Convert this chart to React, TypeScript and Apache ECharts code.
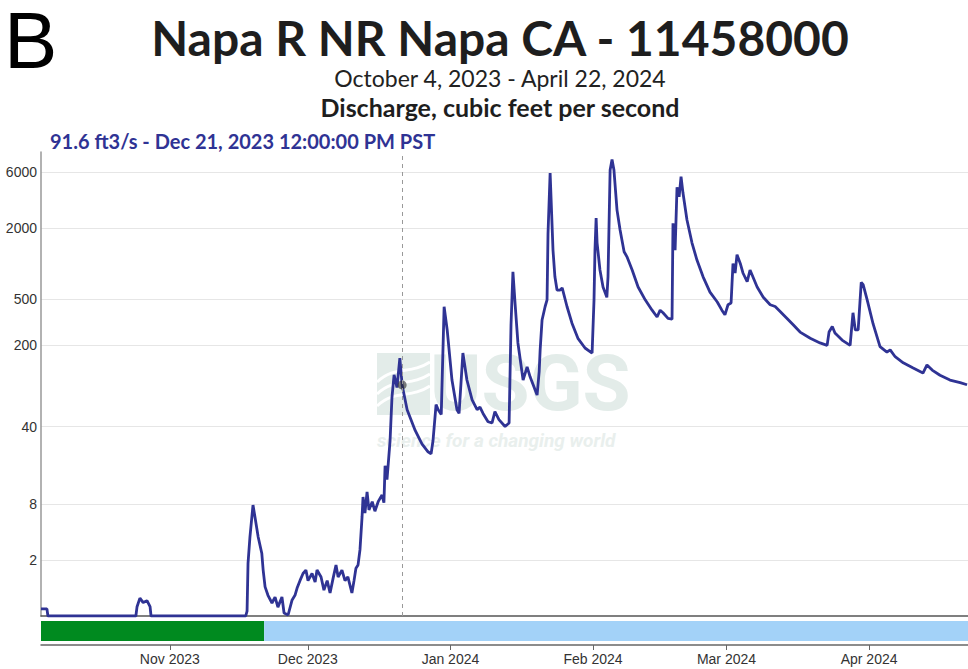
import React, { useEffect, useRef } from "react";
import * as echarts from "echarts";

// Discharge readings [time (local), cubic feet per second]
const discharge: [string, number][] = [
  ["2023-10-04T00:00", 0.15], ["2023-10-05T07:00", 0.15], ["2023-10-05T12:00", 0],
  ["2023-10-24T15:00", 0], ["2023-10-24T21:00", 0.2], ["2023-10-25T12:00", 0.42],
  ["2023-10-26T05:00", 0.3], ["2023-10-27T01:00", 0.35], ["2023-10-27T17:00", 0.2],
  ["2023-10-27T22:00", 0], ["2023-11-17T12:00", 0], ["2023-11-17T19:00", 0.1],
  ["2023-11-18T00:00", 1.8], ["2023-11-18T10:00", 3.7], ["2023-11-19T02:00", 7.8],
  ["2023-11-19T12:00", 6.0], ["2023-11-20T05:00", 3.7], ["2023-11-21T00:00", 2.4],
  ["2023-11-21T07:00", 1.46], ["2023-11-21T17:00", 0.77], ["2023-11-22T08:00", 0.5],
  ["2023-11-23T05:00", 0.29], ["2023-11-23T21:00", 0.45], ["2023-11-24T12:00", 0.19],
  ["2023-11-25T09:00", 0.45], ["2023-11-25T20:00", 0.06], ["2023-11-26T17:00", 0.02],
  ["2023-11-27T14:00", 0.37], ["2023-11-28T05:00", 0.5], ["2023-11-28T16:00", 0.73],
  ["2023-11-29T07:00", 1.0], ["2023-11-29T23:00", 1.3], ["2023-11-30T14:00", 1.46],
  ["2023-12-01T01:00", 1.0], ["2023-12-01T22:00", 1.3], ["2023-12-02T14:00", 0.95],
  ["2023-12-03T00:00", 1.46], ["2023-12-03T21:00", 1.15], ["2023-12-04T12:00", 0.66],
  ["2023-12-05T05:00", 1.0], ["2023-12-05T20:00", 0.57], ["2023-12-06T12:00", 1.1],
  ["2023-12-07T03:00", 1.72], ["2023-12-07T14:00", 1.15], ["2023-12-08T10:00", 1.46],
  ["2023-12-09T02:00", 1.0], ["2023-12-09T17:00", 1.15], ["2023-12-10T14:00", 0.57],
  ["2023-12-11T01:00", 1.0], ["2023-12-11T11:00", 1.55], ["2023-12-11T22:00", 1.72],
  ["2023-12-12T08:00", 2.65], ["2023-12-12T19:00", 6], ["2023-12-13T00:00", 9.3],
  ["2023-12-13T10:00", 6.5], ["2023-12-13T21:00", 10.4], ["2023-12-14T07:00", 7],
  ["2023-12-15T00:00", 8.4], ["2023-12-15T14:00", 6.8], ["2023-12-16T07:00", 8.4],
  ["2023-12-17T03:00", 9.7], ["2023-12-17T13:00", 8.2], ["2023-12-17T19:00", 18],
  ["2023-12-18T05:00", 13.5], ["2023-12-18T21:00", 30], ["2023-12-19T07:00", 72],
  ["2023-12-19T18:00", 112], ["2023-12-20T09:00", 87], ["2023-12-21T00:00", 156],
  ["2023-12-21T12:00", 91.6], ["2023-12-22T14:00", 56], ["2023-12-24T08:00", 37],
  ["2023-12-25T20:00", 28], ["2023-12-27T03:00", 24], ["2023-12-27T19:00", 23],
  ["2023-12-28T05:00", 30], ["2023-12-28T21:00", 62], ["2023-12-29T08:00", 56],
  ["2023-12-30T00:00", 51], ["2023-12-30T15:00", 428], ["2023-12-31T07:00", 271],
  ["2024-01-01T08:00", 101], ["2024-01-02T10:00", 56], ["2024-01-02T21:00", 52],
  ["2024-01-03T17:00", 172], ["2024-01-04T14:00", 101], ["2024-01-05T17:00", 68],
  ["2024-01-06T19:00", 56], ["2024-01-07T10:00", 59], ["2024-01-08T02:00", 52],
  ["2024-01-09T04:00", 44], ["2024-01-10T01:00", 43], ["2024-01-10T16:00", 54],
  ["2024-01-11T13:00", 46], ["2024-01-12T21:00", 40], ["2024-01-13T18:00", 43],
  ["2024-01-14T04:00", 300], ["2024-01-14T14:00", 850], ["2024-01-15T01:00", 460],
  ["2024-01-15T16:00", 210], ["2024-01-16T19:00", 101], ["2024-01-17T16:00", 131],
  ["2024-01-18T08:00", 107], ["2024-01-19T20:00", 75], ["2024-01-20T07:00", 120],
  ["2024-01-20T12:00", 183], ["2024-01-20T22:00", 330], ["2024-01-21T14:00", 430],
  ["2024-01-22T00:00", 490], ["2024-01-22T05:00", 1800], ["2024-01-22T16:00", 5900],
  ["2024-01-23T07:00", 1300], ["2024-01-23T17:00", 770], ["2024-01-24T04:00", 594],
  ["2024-01-24T20:00", 594], ["2024-01-25T07:00", 620], ["2024-01-26T08:00", 430],
  ["2024-01-27T10:00", 310], ["2024-01-28T17:00", 230], ["2024-01-30T06:00", 190],
  ["2024-01-31T19:00", 172], ["2024-02-01T05:00", 490], ["2024-02-01T10:00", 1300],
  ["2024-02-01T16:00", 2440], ["2024-02-01T21:00", 1500], ["2024-02-02T12:00", 880],
  ["2024-02-03T04:00", 630], ["2024-02-04T00:00", 515], ["2024-02-04T06:00", 770],
  ["2024-02-04T17:00", 6250], ["2024-02-05T03:00", 7700], ["2024-02-05T13:00", 6250],
  ["2024-02-06T05:00", 2850], ["2024-02-06T21:00", 1930], ["2024-02-07T18:00", 1260],
  ["2024-02-08T09:00", 1140], ["2024-02-09T12:00", 880], ["2024-02-10T19:00", 630],
  ["2024-02-12T08:00", 490], ["2024-02-13T20:00", 400], ["2024-02-14T22:00", 350],
  ["2024-02-15T14:00", 400], ["2024-02-16T05:00", 380], ["2024-02-17T07:00", 340],
  ["2024-02-18T04:00", 335], ["2024-02-18T09:00", 2200], ["2024-02-18T20:00", 1300],
  ["2024-02-19T06:00", 4450], ["2024-02-19T17:00", 3700], ["2024-02-20T03:00", 5500],
  ["2024-02-20T13:00", 4000], ["2024-02-21T10:00", 2350], ["2024-02-22T12:00", 1500],
  ["2024-02-23T14:00", 1070], ["2024-02-24T22:00", 770], ["2024-02-26T10:00", 570],
  ["2024-02-28T00:00", 470], ["2024-02-29T00:00", 400], ["2024-02-29T16:00", 365],
  ["2024-03-01T08:00", 445], ["2024-03-02T00:00", 460], ["2024-03-02T10:00", 1000],
  ["2024-03-02T21:00", 830], ["2024-03-03T07:00", 1190], ["2024-03-04T00:00", 1000],
  ["2024-03-04T14:00", 830], ["2024-03-05T12:00", 700], ["2024-03-06T03:00", 880],
  ["2024-03-07T16:00", 630], ["2024-03-09T00:00", 515], ["2024-03-10T12:00", 445],
  ["2024-03-11T14:00", 430], ["2024-03-12T16:00", 390], ["2024-03-14T04:00", 340],
  ["2024-03-15T12:00", 300], ["2024-03-17T00:00", 260], ["2024-03-19T05:00", 230],
  ["2024-03-21T08:00", 210], ["2024-03-22T21:00", 200], ["2024-03-23T07:00", 260],
  ["2024-03-24T00:00", 290], ["2024-03-24T14:00", 255], ["2024-03-26T03:00", 222],
  ["2024-03-27T21:00", 200], ["2024-03-28T12:00", 380], ["2024-03-29T00:00", 271],
  ["2024-03-29T15:00", 271], ["2024-03-30T07:00", 690], ["2024-03-30T17:00", 660],
  ["2024-03-31T14:00", 490], ["2024-04-01T21:00", 305], ["2024-04-03T09:00", 195],
  ["2024-04-04T21:00", 175], ["2024-04-05T14:00", 183], ["2024-04-06T16:00", 160],
  ["2024-04-08T10:00", 142], ["2024-04-10T14:00", 128], ["2024-04-12T17:00", 116],
  ["2024-04-13T14:00", 136], ["2024-04-14T17:00", 123], ["2024-04-16T10:00", 111],
  ["2024-04-18T14:00", 101], ["2024-04-20T19:00", 96], ["2024-04-22T07:00", 92],
];

const yTickValues = [2, 8, 40, 200, 500, 2000, 6000];
const yAxisMinValue = 0;
const yAxisMaxValue = 8900;
const xAxisStart = "2023-10-04T00:00";
const xAxisEnd = "2024-04-22T12:00";
const monthTicks = ["2023-11-01T00:00", "2023-12-01T00:00", "2024-01-01T00:00", "2024-02-01T00:00", "2024-03-01T00:00", "2024-04-01T00:00"];
const monthNames = ["Jan", "Feb", "Mar", "Apr", "May", "Jun", "Jul", "Aug", "Sep", "Oct", "Nov", "Dec"];

// Approval status periods: [start, end, statusIndex] (0 = approved, 1 = provisional)
const statusPeriods: [string, string, number][] = [
  ["2023-10-04T00:00", "2023-11-21T12:00", 0],
  ["2023-11-21T12:00", "2024-04-22T12:00", 1],
];

const selectedTime = "2023-12-21T12:00";
const selectedValue = 91.6;

const titleText = "Napa R NR Napa CA - 11458000";
const subtitleText = "October 4, 2023 - April 22, 2024";
const parameterText = "Discharge, cubic feet per second";
const selectedText = "91.6 ft3/s - Dec 21, 2023 12:00:00 PM PST";
const panelLetter = "B";

// symmetric-log transform used by the USGS plot: log10(q + 1)
const sym = (v: number) => Math.log10(v + 1);
const unsym = (t: number) => Math.pow(10, t) - 1;
const ts = (s: string) => new Date(s).getTime();

export default function App() {
  const ref = useRef<HTMLDivElement>(null);
  useEffect(() => {
    if (!ref.current) return;
    const chart = echarts.init(ref.current, undefined, { renderer: "svg" });
    const lineColor = "#2f3394";
    const statusColors = ["#008a1f", "#a3d2f8"];
    const wm = "#e3ece9";
    const monthTickTs = monthTicks.map(ts);
    const option: any = {
      animation: false,
      backgroundColor: "#ffffff",
      grid: [
        { left: 41, right: 0, top: 152, height: 464 },
        { left: 41, right: 0, top: 621, height: 20 },
      ],
      xAxis: [
        {
          type: "value",
          gridIndex: 0,
          min: ts(xAxisStart),
          max: ts(xAxisEnd),
          axisLine: { show: true, onZero: false, lineStyle: { color: "#555", width: 1.5 } },
          axisTick: { show: false },
          axisLabel: { show: false },
          splitLine: { show: false },
        },
        {
          type: "value",
          gridIndex: 1,
          min: ts(xAxisStart),
          max: ts(xAxisEnd),
          offset: 4,
          axisLine: { show: true, onZero: false, lineStyle: { color: "#666", width: 1.5 } },
          axisTick: { show: true, length: 5, lineStyle: { color: "#666" }, customValues: monthTickTs },
          axisLabel: {
            show: true,
            customValues: monthTickTs,
            color: "#333",
            fontSize: 14,
            fontFamily: "Liberation Sans, Arial, sans-serif",
            margin: 7,
            formatter: (v: number) => {
              const d = new Date(v);
              return monthNames[d.getMonth()] + " " + d.getFullYear();
            },
          },
          splitLine: { show: false },
        },
      ],
      yAxis: [
        {
          type: "value",
          gridIndex: 0,
          min: sym(yAxisMinValue),
          max: sym(yAxisMaxValue),
          axisLine: { show: true, lineStyle: { color: "#999", width: 1.5 } },
          axisTick: { show: false, customValues: yTickValues.map(sym) },
          axisLabel: {
            customValues: yTickValues.map(sym),
            color: "#333",
            fontSize: 14,
            fontFamily: "Liberation Sans, Arial, sans-serif",
            margin: 4,
            formatter: (t: number) => String(Math.round(unsym(t))),
          },
          splitLine: { show: true, lineStyle: { color: "#e6e6e6", width: 1 } },
        },
        { type: "value", gridIndex: 1, min: 0, max: 1, show: false },
      ],
      graphic: [
        {
          type: "text",
          x: 4,
          y: 0,
          style: { text: panelLetter, fontSize: 80, fontFamily: "Liberation Sans, Arial, sans-serif", fill: "#000", verticalAlign: "top" },
        },
        {
          type: "text",
          x: 500,
          y: 37,
          style: { text: titleText, fontSize: 48, lineHeight: 50, fontWeight: "bold", fontFamily: "Lato, sans-serif", fill: "#1e1e1e", align: "center", verticalAlign: "middle" },
        },
        {
          type: "text",
          x: 500,
          y: 78,
          style: { text: subtitleText, fontSize: 23, lineHeight: 24, fontFamily: "Lato, sans-serif", fill: "#222", align: "center", verticalAlign: "middle" },
        },
        {
          type: "text",
          x: 500,
          y: 107,
          style: { text: parameterText, fontSize: 25, lineHeight: 26, fontWeight: "bold", fontFamily: "Lato, sans-serif", fill: "#1e1e1e", align: "center", verticalAlign: "middle" },
        },
        {
          type: "text",
          x: 50,
          y: 141,
          style: { text: selectedText, fontSize: 20, lineHeight: 20, fontWeight: "bold", fontFamily: "Lato, sans-serif", fill: lineColor, verticalAlign: "middle" },
        },
        {
          type: "group",
          z: -10,
          silent: true,
          children: [
            { type: "rect", shape: { x: 377, y: 353, width: 53, height: 62 }, style: { fill: wm } },
            { type: "bezierCurve", shape: { x1: 377, y1: 382, x2: 430, y2: 362, cpx1: 395, cpy1: 365, cpx2: 410, cpy2: 375 }, style: { stroke: "#fff", lineWidth: 3, fill: "none" } },
            { type: "bezierCurve", shape: { x1: 377, y1: 394, x2: 430, y2: 374, cpx1: 395, cpy1: 377, cpx2: 410, cpy2: 387 }, style: { stroke: "#fff", lineWidth: 3, fill: "none" } },
            { type: "bezierCurve", shape: { x1: 377, y1: 406, x2: 430, y2: 386, cpx1: 395, cpy1: 389, cpx2: 410, cpy2: 399 }, style: { stroke: "#fff", lineWidth: 3, fill: "none" } },
            { type: "text", x: 430, y: 383, style: { text: "USGS", fontSize: 78, lineHeight: 60, fontWeight: "bold", fontFamily: "Roboto, sans-serif", fill: wm, verticalAlign: "middle" } },
            { type: "text", x: 377, y: 440, style: { text: "science for a changing world", fontSize: 19, lineHeight: 18, fontStyle: "italic", fontWeight: "bold", fontFamily: "Roboto, sans-serif", fill: "#e9efed", verticalAlign: "middle" } },
          ],
        },
      ],
      series: [
        {
          type: "line",
          xAxisIndex: 0,
          yAxisIndex: 0,
          data: discharge.map(([t, v]) => [ts(t), sym(v)]),
          showSymbol: false,
          symbol: "none",
          lineStyle: { color: lineColor, width: 2.8 },
          z: 3,
          markLine: {
            silent: true,
            symbol: ["none", "none"],
            label: { show: false },
            lineStyle: { color: "#999", type: [4, 4], width: 1 },
            data: [{ xAxis: ts(selectedTime) }],
          },
        },
        {
          type: "scatter",
          xAxisIndex: 0,
          yAxisIndex: 0,
          data: [[ts(selectedTime), sym(selectedValue)]],
          symbolSize: 9,
          itemStyle: { color: "rgba(40,40,40,0.75)" },
          z: 4,
        },
        {
          type: "custom",
          xAxisIndex: 1,
          yAxisIndex: 1,
          data: statusPeriods.map(([s, e, i]) => [ts(s), ts(e), i]),
          encode: { x: [0, 1] },
          renderItem: (params: any, api: any) => {
            const a = api.coord([api.value(0), 0]);
            const b = api.coord([api.value(1), 0]);
            const cs = params.coordSys;
            return {
              type: "rect",
              shape: { x: a[0], y: cs.y, width: b[0] - a[0], height: cs.height },
              style: { fill: statusColors[api.value(2)] },
            };
          },
        },
      ],
    };
    chart.setOption(option);
    return () => chart.dispose();
  }, []);
  return (
    <div
      ref={ref}
      style={{ position: "absolute", left: 0, top: 0, width: 968, height: 669, background: "#fff" }}
    />
  );
}
